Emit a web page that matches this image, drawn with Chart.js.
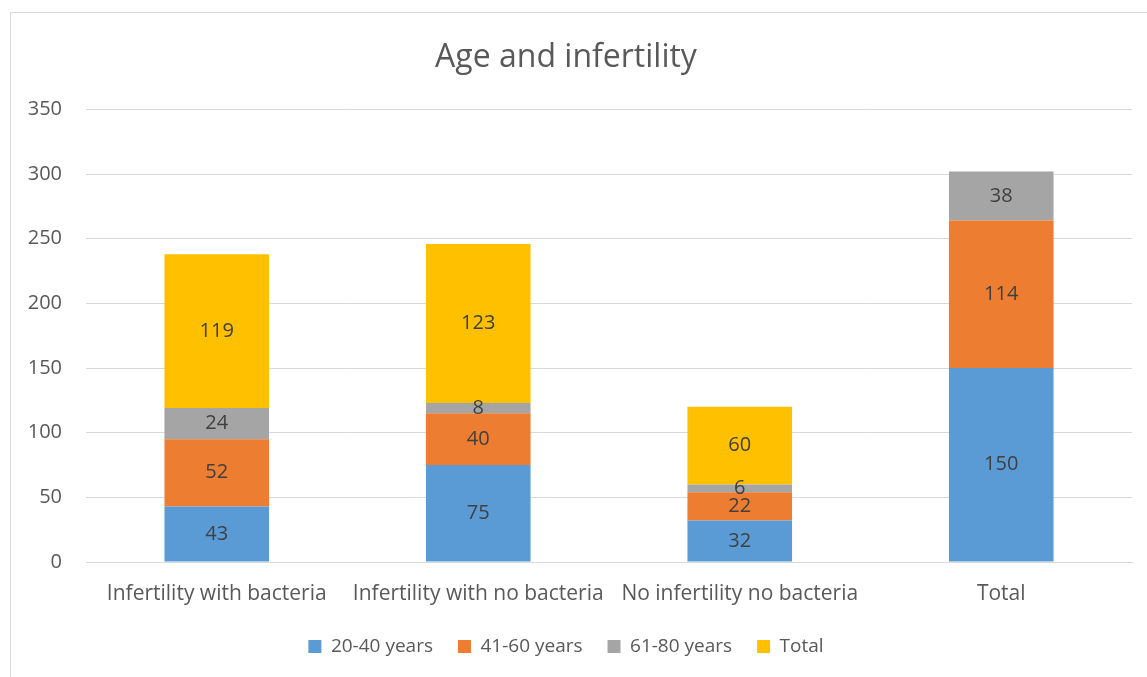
<!DOCTYPE html>
<html><head><meta charset="utf-8">
<script src="https://cdn.jsdelivr.net/npm/chart.js@4/dist/chart.umd.min.js"></script>
<style>
html,body{margin:0;padding:0;background:#fff;overflow:hidden;}
#wrap{position:absolute;left:0;top:0;width:1147px;height:677px;}
#frame{position:absolute;left:10px;top:12px;width:1200px;height:700px;border:1px solid #d9d9d9;}
canvas{position:absolute;left:0;top:0;}
</style></head>
<body>
<div id="wrap"><div id="frame"></div><canvas id="c" width="1147" height="677"></canvas></div>
<script>
const categories = ["Infertility with bacteria","Infertility with no bacteria","No infertility no bacteria","Total"];
const age20to40 = [43, 75, 32, 150];
const age41to60 = [52, 40, 22, 114];
const age61to80 = [24, 8, 6, 38];
const totalSeries = [119, 123, 60, null];
const seriesNames = ["20-40 years","41-60 years","61-80 years","Total"];
const yTicks = [0,50,100,150,200,250,300,350];

const FONT = "'Open Sans', Lato, sans-serif";

const labelPlugin = {
  id: 'segLabels',
  afterDatasetsDraw(chart){
    const ctx = chart.ctx;
    ctx.save();
    ctx.font = "20px " + FONT;
    ctx.fillStyle = "#404040";
    ctx.textAlign = "center";
    ctx.textBaseline = "middle";
    chart.data.datasets.forEach((ds, i) => {
      const meta = chart.getDatasetMeta(i);
      meta.data.forEach((el, j) => {
        const v = ds.data[j];
        if (v === null || v === undefined) return;
        const p = el.getProps(['x','y','base'], true);
        ctx.fillText(String(v), p.x, (p.y + p.base)/2);
      });
    });
    ctx.restore();
  }
};

new Chart(document.getElementById('c'), {
  type: 'bar',
  data: {
    labels: categories,
    datasets: [
      {label: seriesNames[0], data: age20to40, backgroundColor: '#5b9bd5'},
      {label: seriesNames[1], data: age41to60, backgroundColor: '#ed7d31'},
      {label: seriesNames[2], data: age61to80, backgroundColor: '#a5a5a5'},
      {label: seriesNames[3], data: totalSeries, backgroundColor: '#ffc000'}
    ]
  },
  options: {
    responsive: false,
    animation: false,
    devicePixelRatio: 1,
    layout: {padding: {left: 0, right: 15, top: 0, bottom: 11}},
    datasets: {bar: {categoryPercentage: 1, barPercentage: 0.4}},
    plugins: {
      title: {display: true, text: 'Age and infertility', color: '#595959',
        font: {family: FONT, size: 32, weight: 'normal'}, padding: {top: 39, bottom: 32}},
      legend: {position: 'bottom', labels: {color: '#595959', font: {family: FONT, size: 19},
        boxWidth: 13, boxHeight: 13, padding: 25}},
      tooltip: {enabled: false}
    },
    scales: {
      x: {stacked: true,
        afterFit(s){ s.height = 50; },
        grid: {display: false},
        border: {color: '#d9d9d9'},
        ticks: {color: '#595959', font: {family: FONT, size: 21}, padding: 11, maxRotation: 0, autoSkip: false}},
      y: {stacked: true, min: 0, max: 350,
        afterFit(s){ s.width = 86; },
        afterBuildTicks(s){ s.ticks = yTicks.map(v => ({value: v})); },
        grid: {color: '#d9d9d9', drawTicks: false},
        border: {display: false},
        ticks: {color: '#595959', font: {family: FONT, size: 20}, padding: 24}}
    }
  },
  plugins: [labelPlugin]
});
</script>
</body></html>
